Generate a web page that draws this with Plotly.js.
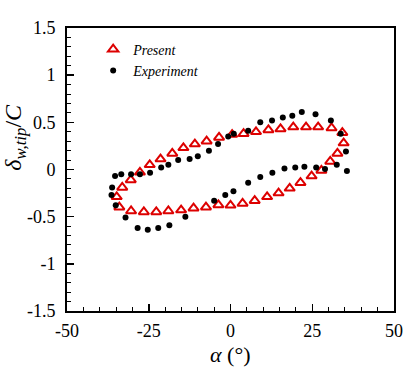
<!DOCTYPE html>
<html>
<head>
<meta charset="utf-8">
<script src="https://cdn.plot.ly/plotly-3.0.1.min.js"></script>
<style>
  html, body { margin: 0; padding: 0; background: #fff; }
  #chart { width: 415px; height: 369px; }
</style>
</head>
<body>
<div id="chart"></div>
<script>
// Present (simulation) loop
const presentAlpha = [-27.7, -24.7, -21.4, -17.8, -14.4, -10.9, -7.3, -3.5, 0.5, 4.0, 7.8, 11.6, 15.3, 19.2, 23.1, 26.8, 30.9, 34.2,
  34.6, 32.7, 30.5, 27.8, 24.8, 21.4, 18.1, 14.7, 11.2, 7.4, 3.7, 0.0, -3.7, -7.5, -11.3, -15.1, -19.0, -22.7, -26.5, -30.4, -34.0,
  -34.8, -33.1, -30.5];
const presentDelta = [-0.03, 0.05, 0.11, 0.17, 0.23, 0.27, 0.30, 0.34, 0.37, 0.38, 0.40, 0.42, 0.43, 0.45, 0.45, 0.45, 0.44, 0.39,
  0.28, 0.17, 0.085, -0.01, -0.07, -0.14, -0.20, -0.25, -0.29, -0.33, -0.36, -0.38, -0.376, -0.40, -0.41, -0.43, -0.44, -0.45, -0.45, -0.44, -0.40,
  -0.29, -0.19, -0.11];

// Experiment loop
const expAlpha = [-35.3, -33.4, -30.4, -27.7, -24.6, -21.2, -19.0, -16.0, -12.5, -10.0, -6.6, -3.8, -0.7, 1.0, 5.4, 9.1, 12.7, 16.0,
  18.9, 21.8, 26.0, 30.7, 33.7, 35.3, 35.6, 32.5, 28.9, 26.2, 22.6, 19.8, 16.5, 12.8, 9.1, 5.4, 0.9, -1.6, -5.0, -13.8, -18.7,
  -22.1, -25.3, -28.4, -32.1, -35.1, -36.4, -36.2];
const expDelta = [-0.07, -0.05, -0.05, -0.05, -0.035, 0.02, 0.05, 0.10, 0.11, 0.14, 0.20, 0.27, 0.35, 0.38, 0.41, 0.50, 0.52, 0.55,
  0.57, 0.61, 0.585, 0.52, 0.38, 0.19, -0.015, 0.05, 0.005, 0.02, 0.03, 0.02, 0.01, -0.035, -0.08, -0.14, -0.23, -0.27, -0.33, -0.50, -0.59,
  -0.62, -0.64, -0.62, -0.51, -0.38, -0.27, -0.19];

const xTickVals = [-50, -25, 0, 25, 50];
const xTickText = ['-50', '-25', '0', '25', '50'];
const yTickVals = [-1.5, -1, -0.5, 0, 0.5, 1, 1.5];
const yTickText = ['-1.5', '-1', '-0.5', '0', '0.5', '1', '1.5'];

const serif = 'Liberation Serif, serif';

const traces = [
  {
    x: presentAlpha, y: presentDelta,
    type: 'scatter', mode: 'markers', name: '<i>Present</i>',
    marker: { symbol: 'triangle-up-open', size: 9, color: '#dd0000', line: { width: 2, color: '#dd0000' } }
  },
  {
    x: expAlpha, y: expDelta,
    type: 'scatter', mode: 'markers', name: '<i>Experiment</i>',
    marker: { symbol: 'circle', size: 6, color: '#000000' }
  }
];

const layout = {
  width: 415, height: 369,
  margin: { l: 67, r: 21, t: 28, b: 58 },
  paper_bgcolor: '#fff', plot_bgcolor: '#fff',
  font: { family: serif, size: 18, color: '#000' },
  showlegend: true,
  legend: {
    x: 0.08, y: 0.98, xanchor: 'left', yanchor: 'top',
    bgcolor: 'rgba(0,0,0,0)', font: { family: serif, size: 14 },
    tracegroupgap: 0, itemwidth: 30
  },
  xaxis: {
    range: [-50, 50], tickmode: 'array', tickvals: xTickVals, ticktext: xTickText,
    ticks: 'inside', ticklen: 7, tickwidth: 1.5, tickcolor: '#000',
    minor: { dtick: 5, ticks: 'inside', ticklen: 4, tickcolor: '#000', tickwidth: 1 },
    showline: true, linewidth: 2, linecolor: '#000', mirror: true,
    showgrid: false, zeroline: false, ticklabelstandoff: 2
  },
  yaxis: {
    range: [-1.5, 1.5], tickmode: 'array', tickvals: yTickVals, ticktext: yTickText,
    ticks: 'inside', ticklen: 7, tickwidth: 1.5, tickcolor: '#000',
    minor: { dtick: 0.1, ticks: 'inside', ticklen: 4, tickcolor: '#000', tickwidth: 1 },
    showline: true, linewidth: 2, linecolor: '#000', mirror: true,
    showgrid: false, zeroline: false, ticklabelstandoff: 6
  },
  annotations: [
    {
      text: '<i>δ</i><sub><i>w,tip</i></sub>/<i>C</i>', textangle: -90,
      xref: 'paper', yref: 'paper', x: -0.16, y: 0.615,
      xanchor: 'center', yanchor: 'middle', showarrow: false,
      font: { family: serif, size: 24 }
    },
    {
      text: '<i>α</i> (°)',
      xref: 'paper', yref: 'paper', x: 0.5, y: -0.152,
      xanchor: 'center', yanchor: 'middle', showarrow: false,
      font: { family: serif, size: 22 }
    }
  ]
};

Plotly.newPlot('chart', traces, layout, { staticPlot: true });
</script>
</body>
</html>
